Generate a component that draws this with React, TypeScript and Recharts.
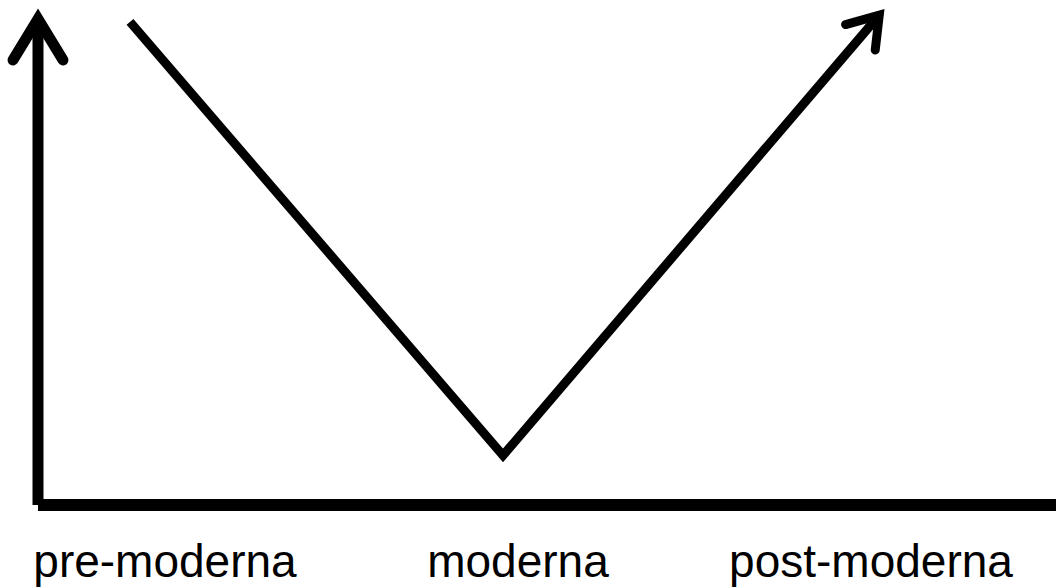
import { Line, LineChart, XAxis, YAxis } from 'recharts';

// eras on the horizontal axis and the height of the curve at each one
const eras = ['pre-moderna', 'moderna', 'post-moderna'];
const level = [99.4, 10.2, 100];

const data = eras.map((era, i) => ({ era, level: level[i] }));

const labelFont = { fontSize: 46, fill: '#000', fontFamily: '"Liberation Sans", Arial, sans-serif' };

function Arrows() {
  // chevron arrowheads for the y axis and the end of the curve
  return (
    <svg width={0} height={0} style={{ position: 'absolute' }}>
      <defs>
        <marker
          id="axisArrow"
          markerUnits="userSpaceOnUse"
          orient="auto-start-reverse"
          viewBox="-60 -40 80 80"
          markerWidth={80}
          markerHeight={80}
          refX={0}
          refY={0}
          overflow="visible"
        >
          <path d="M -41 -25 L 0 0 L -41 25" fill="none" stroke="#000" strokeWidth={11} strokeLinecap="round" strokeLinejoin="miter" />
        </marker>
        <marker
          id="lineArrow"
          markerUnits="userSpaceOnUse"
          orient="auto"
          viewBox="-60 -40 80 80"
          markerWidth={80}
          markerHeight={80}
          refX={-5}
          refY={0}
          overflow="visible"
        >
          <path d="M -29 -19.5 L 0 0 L -29 19.5" fill="none" stroke="#000" strokeWidth={9} strokeLinecap="round" strokeLinejoin="miter" />
        </marker>
      </defs>
    </svg>
  );
}

export default function App() {
  return (
    <div style={{ width: 1056, height: 588, background: '#fff' }}>
      <style>{'body{margin:0}'}</style>
      <Arrows />
      <LineChart width={1056} height={588} data={data} margin={{ top: 19, right: 0, bottom: 0, left: 0 }}>
        <XAxis xAxisId="pts" dataKey="era" hide padding={{ left: 92, right: 180 }} />
        <XAxis
          xAxisId="labels"
          dataKey="era"
          height={83}
          interval={0}
          padding={{ left: 127, right: 185 }}
          tickLine={false}
          tickSize={0}
          tickMargin={39}
          tick={labelFont}
          axisLine={{ stroke: '#000', strokeWidth: 12 }}
        />
        <YAxis
          width={38}
          domain={[0, 100]}
          tick={false}
          tickLine={false}
          axisLine={{ stroke: '#000', strokeWidth: 11, markerStart: 'url(#axisArrow)' }}
        />
        <Line
          xAxisId="pts"
          type="linear"
          dataKey="level"
          stroke="#000"
          strokeWidth={9}
          dot={false}
          activeDot={false}
          markerEnd="url(#lineArrow)"
          isAnimationActive={false}
        />
      </LineChart>
    </div>
  );
}
